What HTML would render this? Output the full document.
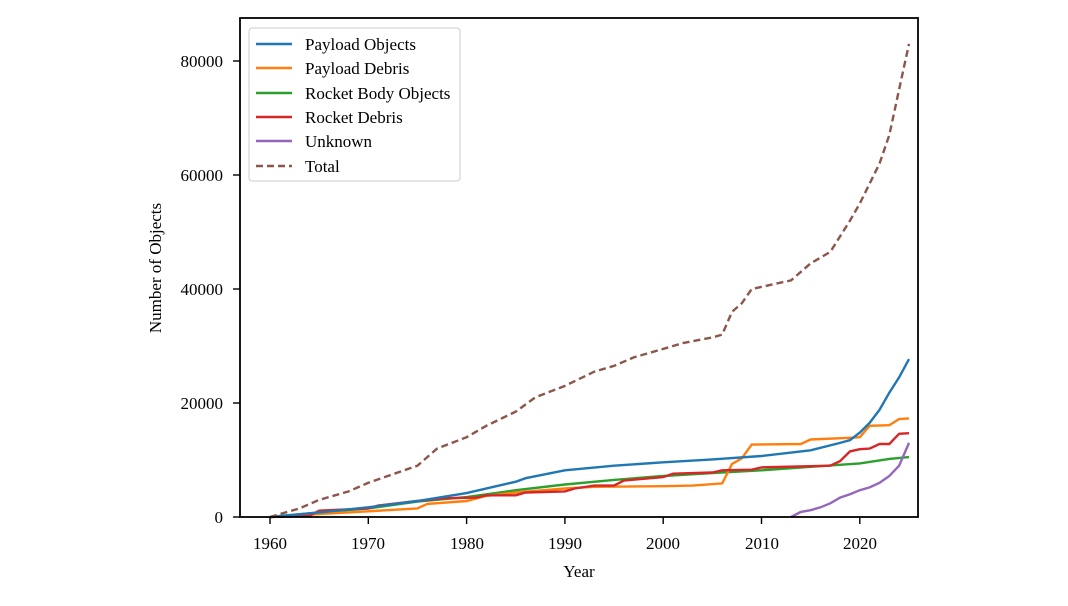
<!DOCTYPE html>
<html><head><meta charset="utf-8"><style>
html,body{margin:0;padding:0;background:#fff;}
svg text{font-family:"Liberation Serif","DejaVu Serif",serif;fill:#000;}
</style></head><body>
<svg id="s" width="1068" height="601" viewBox="0 0 1068 601" xmlns="http://www.w3.org/2000/svg">
<g id="plot"></g>
<rect x="240" y="18" width="678" height="499" fill="none" stroke="#000" stroke-width="1.8"/>
<g id="ticks" stroke="#000" stroke-width="1.4"></g>
<g font-size="17" text-anchor="middle">
<text x="270" y="549">1960</text><text x="368" y="549">1970</text><text x="467" y="549">1980</text>
<text x="565" y="549">1990</text><text x="663" y="549">2000</text><text x="762" y="549">2010</text><text x="860" y="549">2020</text>
</g>
<g font-size="17" text-anchor="end">
<text x="223" y="523">0</text><text x="223" y="409">20000</text><text x="223" y="295">40000</text>
<text x="223" y="181">60000</text><text x="223" y="67">80000</text>
</g>
<text x="579" y="577" font-size="17" text-anchor="middle">Year</text>
<text transform="translate(161,268) rotate(-90)" font-size="17" text-anchor="middle">Number of Objects</text>
<rect x="249" y="28" width="211" height="153" rx="3" fill="#fff" stroke="#ccc" stroke-width="1"/>
<g stroke-width="2.4">
<line x1="256" y1="44" x2="292" y2="44" stroke="#1f77b4"/>
<line x1="256" y1="68" x2="292" y2="68" stroke="#ff7f0e"/>
<line x1="256" y1="93" x2="292" y2="93" stroke="#2ca02c"/>
<line x1="256" y1="117" x2="292" y2="117" stroke="#d62728"/>
<line x1="256" y1="141" x2="292" y2="141" stroke="#9467bd"/>
<line x1="256" y1="166" x2="292" y2="166" stroke="#8c564b" stroke-dasharray="7,4"/>
</g>
<g font-size="17">
<text x="305" y="50">Payload Objects</text><text x="305" y="74">Payload Debris</text>
<text x="305" y="99">Rocket Body Objects</text><text x="305" y="123">Rocket Debris</text>
<text x="305" y="147">Unknown</text><text x="305" y="172">Total</text>
</g>
</svg>
<script>
var X=function(y){return 270+(y-1960)*9.83},Y=function(v){return 517-v*0.0057};
function P(d,c,dash){var p=[];for(var i=0;i<d.length;i+=2)p.push(X(d[i]).toFixed(1)+","+Y(d[i+1]).toFixed(1));
var e=document.createElementNS("http://www.w3.org/2000/svg","polyline");e.setAttribute("points",p.join(" "));
e.setAttribute("fill","none");e.setAttribute("stroke",c);e.setAttribute("stroke-width","2.4");if(dash)e.setAttribute("stroke-dasharray","7,4");
document.getElementById("plot").appendChild(e);}
P([1960,0,1965,800,1970,1500,1975,2700,1980,3500,1985,4700,1990,5700,1995,6500,2000,7200,2005,7700,2010,8200,2015,8800,2020,9400,2023,10200,2025,10500],"#2ca02c");
P([1960,0,1965,500,1970,1000,1975,1500,1976,2300,1980,2800,1982,3700,1985,4300,1990,5000,1993,5300,2000,5400,2003,5500,2006,5900,2007,9300,2008,10300,2009,12700,2014,12800,2015,13600,2019,13900,2020,14000,2021,16000,2023,16100,2024,17200,2025,17300],"#ff7f0e");
P([1960,0,1964,200,1965,1100,1970,1500,1971,2000,1975,2800,1978,3300,1981,3400,1982,3800,1985,3800,1986,4300,1990,4500,1991,5000,1993,5500,1995,5500,1996,6400,2000,7000,2001,7600,2005,7800,2006,8200,2009,8300,2010,8700,2017,9000,2018,9800,2019,11500,2020,11900,2021,12000,2022,12800,2023,12800,2024,14600,2025,14700],"#d62728");
P([1960,0,1965,800,1970,1700,1975,2800,1980,4200,1985,6200,1986,6800,1990,8200,1995,9000,2000,9600,2005,10100,2010,10700,2015,11700,2018,13000,2019,13500,2020,14800,2021,16500,2022,18800,2023,21800,2024,24500,2025,27700],"#1f77b4");
P([2013,0,2014,900,2015,1200,2016,1700,2017,2400,2018,3400,2019,4000,2020,4700,2021,5200,2022,6000,2023,7200,2024,9000,2025,13000],"#9467bd");
P([1960,0,1963,1500,1965,3000,1968,4500,1970,6000,1975,9000,1977,12000,1980,14000,1982,16000,1985,18500,1987,21000,1990,23000,1993,25500,1995,26500,1997,28000,2000,29500,2002,30500,2005,31500,2006,32000,2007,36000,2008,37500,2009,40000,2013,41500,2015,44500,2017,46500,2019,52000,2020,55000,2022,62000,2023,67000,2024,75000,2025,83000],"#8c564b",1);
var t=document.getElementById("ticks"),h="";
for(var y=1960;y<=2020;y+=10)h+='<line x1="'+X(y)+'" y1="517" x2="'+X(y)+'" y2="524"/>';
for(var v=0;v<=80000;v+=20000)h+='<line x1="233" y1="'+Y(v)+'" x2="240" y2="'+Y(v)+'"/>';
t.innerHTML=h;
</script>
</body></html>
